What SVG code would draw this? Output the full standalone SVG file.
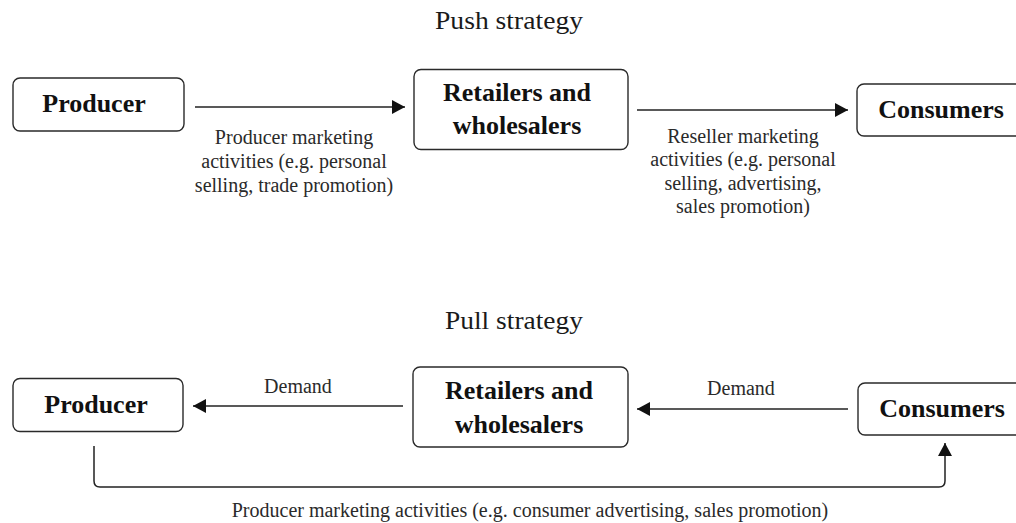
<svg xmlns="http://www.w3.org/2000/svg" width="1016" height="523" viewBox="0 0 1016 523">
  <style>
    .box { fill: #ffffff; stroke: #2a2a2a; stroke-width: 1.4; }
    .node { font-family: "Liberation Serif", "Times New Roman", serif; font-weight: bold; font-size: 26px; fill: #111111; text-anchor: middle; }
    .title { font-family: "Liberation Serif", "Times New Roman", serif; font-size: 25px; fill: #1a1a1a; text-anchor: middle; }
    .label { font-family: "Liberation Serif", "Times New Roman", serif; font-size: 20px; fill: #2a2a2a; text-anchor: middle; }
    .edge { fill: none; stroke: #222222; stroke-width: 1.5; }
  </style>
  <defs>
    <marker id="arrow" viewBox="0 0 13 14" refX="13" refY="7" markerWidth="13" markerHeight="14" markerUnits="userSpaceOnUse" orient="auto">
      <path d="M0,0 L13,7 L0,14 z" fill="#111111"/>
    </marker>
  </defs>
  <rect width="1016" height="523" fill="#ffffff"/>

  <!-- Section titles -->
  <text class="title" x="509" y="29" textLength="148" lengthAdjust="spacingAndGlyphs">Push strategy</text>
  <text class="title" x="514" y="329" textLength="138" lengthAdjust="spacingAndGlyphs">Pull strategy</text>

  <!-- Push strategy nodes -->
  <g id="push-producer">
    <rect class="box" x="13" y="78" width="171" height="53" rx="7"/>
    <text class="node" x="94" y="112">Producer</text>
  </g>
  <g id="push-retailers">
    <rect class="box" x="414" y="69.5" width="214" height="80" rx="7"/>
    <text class="node" x="517" y="101">Retailers and</text>
    <text class="node" x="517" y="134">wholesalers</text>
  </g>
  <g id="push-consumers">
    <rect class="box" x="857" y="84" width="170" height="52" rx="7"/>
    <text class="node" x="941" y="118">Consumers</text>
  </g>

  <!-- Pull strategy nodes -->
  <g id="pull-producer">
    <rect class="box" x="13" y="378.5" width="170" height="53" rx="7"/>
    <text class="node" x="96" y="413">Producer</text>
  </g>
  <g id="pull-retailers">
    <rect class="box" x="413" y="367" width="215" height="80" rx="7"/>
    <text class="node" x="519" y="399">Retailers and</text>
    <text class="node" x="519" y="433">wholesalers</text>
  </g>
  <g id="pull-consumers">
    <rect class="box" x="858" y="383" width="170" height="52" rx="7"/>
    <text class="node" x="942" y="417">Consumers</text>
  </g>

  <!-- Connectors -->
  <g id="connectors">
    <line class="edge" x1="195" y1="107" x2="405" y2="107" marker-end="url(#arrow)"/>
    <line class="edge" x1="637" y1="110" x2="848" y2="110" marker-end="url(#arrow)"/>
    <line class="edge" x1="403" y1="406" x2="193" y2="406" marker-end="url(#arrow)"/>
    <line class="edge" x1="848" y1="409" x2="637" y2="409" marker-end="url(#arrow)"/>
    <path class="edge" d="M94,446 V481 Q94,487 100,487 H939 Q945,487 945,481 V443" marker-end="url(#arrow)"/>
  </g>

  <!-- Connector labels -->
  <g id="labels">
    <text class="label" x="294" y="144">Producer marketing</text>
    <text class="label" x="294" y="168">activities (e.g. personal</text>
    <text class="label" x="294" y="192">selling, trade promotion)</text>

    <text class="label" x="743" y="143">Reseller marketing</text>
    <text class="label" x="743" y="166">activities (e.g. personal</text>
    <text class="label" x="743" y="190">selling, advertising,</text>
    <text class="label" x="743" y="213">sales promotion)</text>

    <text class="label" x="298" y="393">Demand</text>
    <text class="label" x="741" y="395">Demand</text>

    <text class="label" x="530" y="517">Producer marketing activities (e.g. consumer advertising, sales promotion)</text>
  </g>
</svg>
